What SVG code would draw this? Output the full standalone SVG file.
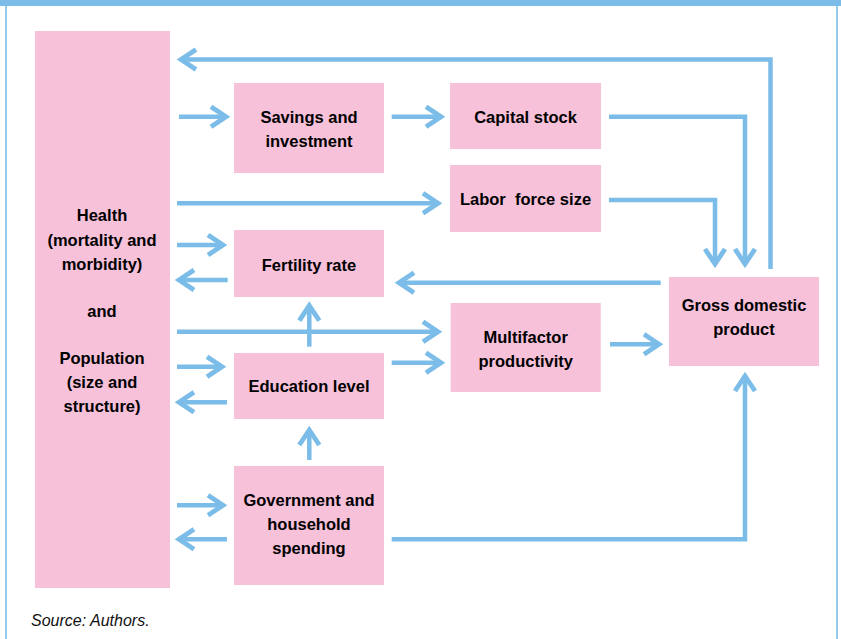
<svg xmlns="http://www.w3.org/2000/svg" width="841" height="639" viewBox="0 0 841 639">
  <defs>
    <style>
      .box { fill: #f7c1d9; }
      .lbl { font-family: "Liberation Sans", Arial, sans-serif; font-weight: bold; font-size: 16.5px; fill: #000; text-anchor: middle; }
      .con { fill: none; stroke: #7bbde8; stroke-width: 4.5; stroke-linejoin: miter; marker-end: url(#ah); }
      .frame { fill: none; stroke: #7bbde8; stroke-width: 1.6; }
      .src { font-family: "Liberation Sans", Arial, sans-serif; font-style: italic; font-size: 16px; fill: #111; }
    </style>
    <marker id="ah" markerUnits="userSpaceOnUse" viewBox="-20 -14 24 28" refX="0" refY="0" markerWidth="24" markerHeight="28" orient="auto" overflow="visible">
      <path d="M-15 -10 L0 0 L-15 10" fill="none" stroke="#7bbde8" stroke-width="4.8" stroke-linejoin="miter"/>
    </marker>
  </defs>

  <!-- outer frame -->
  <rect x="0" y="0" width="841" height="6" fill="#7bbde8"/>
  <line class="frame" x1="6" y1="0" x2="6" y2="639"/>
  <line class="frame" x1="837" y1="0" x2="837" y2="639"/>

  <!-- connectors -->
  <g id="connectors">
    <path class="con" d="M770.5 269 V59.5 H181"/>
    <path class="con" d="M179 116.7 H226"/>
    <path class="con" d="M391.7 116.7 H441"/>
    <path class="con" d="M609 116.7 H745 V264"/>
    <path class="con" d="M177 203.3 H438"/>
    <path class="con" d="M609 200 H715 V264"/>
    <path class="con" d="M177 245 H223"/>
    <path class="con" d="M227.7 280 H179"/>
    <path class="con" d="M660.7 282.7 H399"/>
    <path class="con" d="M177 331.7 H438"/>
    <path class="con" d="M309.3 346.7 V305.7"/>
    <path class="con" d="M177 366.7 H222"/>
    <path class="con" d="M227 402.3 H179"/>
    <path class="con" d="M391.7 362.7 H441"/>
    <path class="con" d="M610 344.3 H659"/>
    <path class="con" d="M309.3 460 V430"/>
    <path class="con" d="M177 505.3 H223"/>
    <path class="con" d="M227 539.3 H179"/>
    <path class="con" d="M391.7 539.3 H745 V376"/>
  </g>

  <!-- nodes -->
  <g id="health">
    <rect class="box" x="35" y="31" width="135" height="557"/>
    <text class="lbl" x="102" y="220.5">Health</text>
    <text class="lbl" x="102" y="245.5">(mortality and</text>
    <text class="lbl" x="102" y="269.5">morbidity)</text>
    <text class="lbl" x="102" y="316.5">and</text>
    <text class="lbl" x="102" y="363.5">Population</text>
    <text class="lbl" x="102" y="387.5">(size and</text>
    <text class="lbl" x="102" y="411.5">structure)</text>
  </g>
  <g id="savings">
    <rect class="box" x="234" y="83" width="150" height="90"/>
    <text class="lbl" x="309" y="122.5">Savings and</text>
    <text class="lbl" x="309" y="146.5">investment</text>
  </g>
  <g id="capital">
    <rect class="box" x="450" y="83" width="151" height="66"/>
    <text class="lbl" x="525.5" y="122.5">Capital stock</text>
  </g>
  <g id="labor">
    <rect class="box" x="450" y="165" width="151" height="67"/>
    <text class="lbl" x="525.5" y="204.5" xml:space="preserve">Labor  force size</text>
  </g>
  <g id="fertility">
    <rect class="box" x="234" y="230" width="150" height="67"/>
    <text class="lbl" x="309" y="270.5">Fertility rate</text>
  </g>
  <g id="education">
    <rect class="box" x="234" y="353" width="150" height="66"/>
    <text class="lbl" x="309" y="391.5">Education level</text>
  </g>
  <g id="multifactor">
    <rect class="box" x="450.7" y="303" width="150" height="89"/>
    <text class="lbl" x="525.7" y="342.5">Multifactor</text>
    <text class="lbl" x="525.7" y="366.5">productivity</text>
  </g>
  <g id="gdp">
    <rect class="box" x="669" y="277" width="150" height="89"/>
    <text class="lbl" x="744" y="310.5">Gross domestic</text>
    <text class="lbl" x="744" y="334.5">product</text>
  </g>
  <g id="spending">
    <rect class="box" x="234" y="466" width="150" height="119"/>
    <text class="lbl" x="309" y="505.5">Government and</text>
    <text class="lbl" x="309" y="529.5">household</text>
    <text class="lbl" x="309" y="553.5">spending</text>
  </g>

  <text class="src" x="31" y="626">Source: Authors.</text>
</svg>
